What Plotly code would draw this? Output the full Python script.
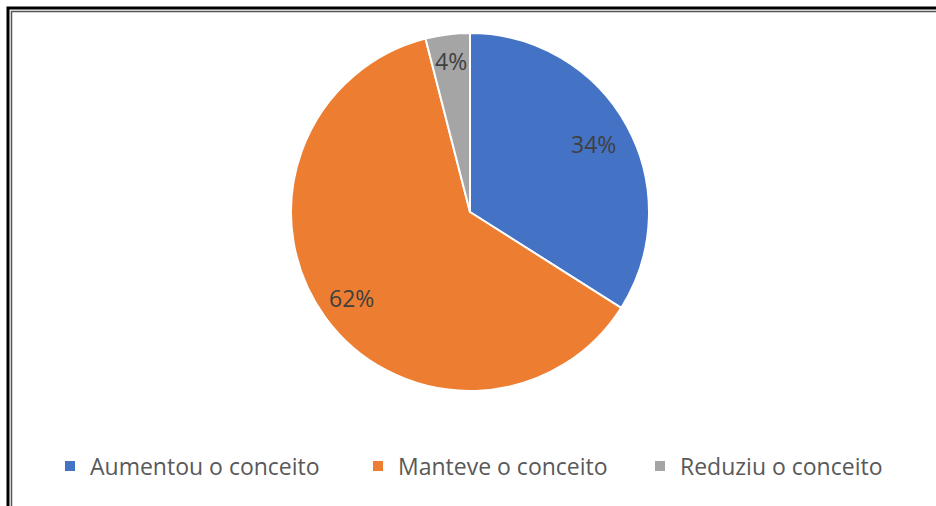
import math
import plotly.graph_objects as go

# Share of respondents by how their concept changed
categorias = ["Aumentou o conceito", "Manteve o conceito", "Reduziu o conceito"]
percentuais = [34, 62, 4]
cores = ["#4472C4", "#ED7D31", "#A5A5A5"]

W, H = 936, 506
cx, cy, r = 470, 212, 179  # pie centre and radius in pixels
raio_rotulo = [0.79, 0.82, 0.85]  # label distance from centre, as a fraction of r
legenda_x = [50, 358, 640]  # left edge of each legend entry, px

FONTE = "Open Sans"

fig = go.Figure(
    go.Pie(
        labels=categorias,
        values=percentuais,
        sort=False,
        direction="clockwise",
        rotation=0,
        marker=dict(colors=cores, line=dict(color="white", width=2)),
        textinfo="none",
        hoverinfo="label+percent",
        showlegend=False,
        domain=dict(x=[(cx - r) / W, (cx + r) / W], y=[1 - (cy + r) / H, 1 - (cy - r) / H]),
    )
)

# percentage labels, placed along each slice's bisector
total = sum(percentuais)
acum = 0
for v, f in zip(percentuais, raio_rotulo):
    ang = 2 * math.pi * (acum + v / 2) / total  # clockwise from 12 o'clock
    acum += v
    px = cx + f * r * math.sin(ang)
    py = cy - f * r * math.cos(ang)
    fig.add_annotation(
        x=px / W, y=1 - py / H, xref="paper", yref="paper",
        xanchor="center", yanchor="middle",
        text=f"{v}%", showarrow=False,
        font=dict(family=FONTE, size=23, color="#404040"),
    )

# legend entries, one legend per category so each can sit at its own spot
for i, (nome, cor, lx) in enumerate(zip(categorias, cores, legenda_x)):
    leg = "legend" if i == 0 else f"legend{i + 1}"
    fig.add_trace(go.Scatter(
        x=[None], y=[None], mode="markers", name=nome,
        marker=dict(symbol="square", size=10, color=cor),
        legend=leg, hoverinfo="skip",
    ))
    fig.update_layout({leg: dict(
        orientation="h", x=lx / W, xanchor="left",
        y=1 - 466 / H, yanchor="middle",
        font=dict(family=FONTE, size=23, color="#595959"),
        itemclick=False, itemdoubleclick=False,
        bgcolor="rgba(0,0,0,0)",
    )})

# double frame around the chart area
fig.add_shape(type="rect", xref="paper", yref="paper",
              x0=8 / W, y0=-0.05, x1=1.05, y1=1 - 8 / H,
              line=dict(color="black", width=3))
fig.add_shape(type="rect", xref="paper", yref="paper",
              x0=11.5 / W, y0=-0.05, x1=1.05, y1=1 - 11.5 / H,
              line=dict(color="#555555", width=1.5))

fig.update_layout(
    width=W,
    height=H,
    margin=dict(l=0, r=0, t=0, b=0),
    paper_bgcolor="white",
    plot_bgcolor="white",
    xaxis=dict(visible=False),
    yaxis=dict(visible=False),
)

fig.write_html("out.html")
